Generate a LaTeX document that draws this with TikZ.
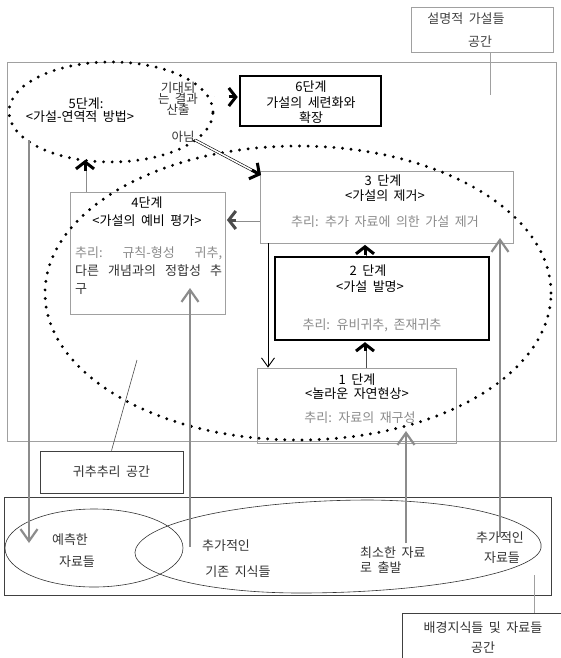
\documentclass[tikz,border=0pt]{standalone}
\usepackage{fontspec}
\setmainfont[WordSpace=1.9]{Noto Sans CJK KR}
\usetikzlibrary{shapes.geometric,arrows.meta,calc}
\definecolor{boxgray}{HTML}{A0A0A0}
\definecolor{textgray}{HTML}{8A8A8A}
\definecolor{arrgray}{HTML}{8C8C8C}
\begin{document}
\begin{tikzpicture}[x=1pt,y=-1pt,
  gbox/.style={draw=boxgray,line width=0.8pt,inner sep=0pt},
  kbox/.style={draw=black,line width=1.3pt,inner sep=0pt},
  tbox/.style={draw=black,line width=2.6pt,inner sep=0pt},
  dbox/.style={draw=black!75,line width=0.7pt,inner sep=0pt},
  dotell/.style={ellipse,draw=black,line width=3.2pt,dash pattern=on 0pt off 8.6pt,line cap=round,inner sep=0pt},
  thinell/.style={ellipse,draw=black!80,line width=0.6pt,inner sep=0pt},
  txt/.style={inner sep=0pt,font=\fontsize{13}{15}\selectfont},
  stxt/.style={inner sep=0pt,font=\fontsize{12.5}{12}\selectfont,align=center},
  gtxt/.style={txt,text=textgray},
  dshaft/.style={draw=black,double=white,line width=0.6pt,double distance=1.6pt},
  gshaft/.style={draw=arrgray,double=white,line width=0.8pt,double distance=1.4pt},
  bhead/.style={draw=black,line width=3pt,-{Straight Barb[length=7pt,width=18pt]}},
  ghead/.style={draw=black!70,line width=3pt,-{Straight Barb[length=7pt,width=18pt]}},
  garrow/.style={draw=arrgray,line width=2.2pt,-{Straight Barb[length=12pt,width=17pt]}},
  karrow/.style={draw=black,line width=0.9pt,-{Straight Barb[length=9pt,width=13pt]}},
  pointer/.style={draw=black!70,line width=0.6pt}
]
\useasboundingbox (0,0) rectangle (560,658);

% explanatory hypotheses space
\node[gbox,minimum width=142pt,minimum height=45pt] (expl) at (482,29.5) {};
\node[txt,text=black!75] (expl1) at (466,19) {설명적 가설들};
\node[txt,text=black!75] (expl2) at (480,42) {공간};
\coordinate (explptr) at (490,95);
\draw[pointer,draw=boxgray] (expl.south -| explptr) -- (explptr);

% outer hypothesis space
\node[gbox,minimum width=549pt,minimum height=379pt] (hyp) at (281.5,251.5) {};

% boxes
\node[tbox,minimum width=141pt,minimum height=50pt] (s6) at (310.5,101) {};
\node[gbox,minimum width=253pt,minimum height=72pt] (s3) at (386.5,207) {};
\node[kbox,minimum width=214pt,minimum height=83pt] (s2) at (382,298.5) {};
\node[gbox,minimum width=199pt,minimum height=75pt] (s1) at (356.5,405.5) {};
\node[gbox,minimum width=155pt,minimum height=122pt] (s4) at (147.5,253) {};

% dotted ellipses
\node[dotell,minimum width=204pt,minimum height=100pt] (e5) at (111,112) {};
\node[dotell,minimum width=506pt,minimum height=294pt] (e2) at (298,293) {};

% texts stage 5
\node[txt] (t5a) at (86,104) {5단계:};
\node[txt] (t5b) at (80,117) {<가설-연역적 방법>};
\node[stxt,text=black!80] (t5c) at (178,99) {기대되\\[-1pt]는 결과\\[-1pt]산출};
\node[stxt,text=black!80] (t5d) at (183,137) {아님};

% stage 6
\node[txt] (t6a) at (311,87) {6단계};
\node[txt] (t6b) at (311,103) {가설의 세련화와};
\node[txt] (t6c) at (311,118) {확장};

% stage 3
\node[txt] (t3a) at (383,181) {3 단계};
\node[txt] (t3b) at (385,196) {<가설의 제거>};
\node[gtxt] (t3c) at (385,222) {추리: 추가 자료에 의한 가설 제거};

% stage 2
\node[txt] (t2a) at (368,271) {2 단계};
\node[txt] (t2b) at (370,287) {<가설 발명>};
\node[gtxt] (t2c) at (372,325) {추리: 유비귀추, 존재귀추};

% stage 1
\node[txt] (t1a) at (357,380) {1 단계};
\node[txt] (t1b) at (357,394) {<놀라운 자연현상>};
\node[gtxt] (t1c) at (360,418) {추리: 자료의 재구성};

% stage 4
\node[txt] (t4a) at (147,203) {4단계};
\node[txt] (t4b) at (147,221) {<가설의 예비 평가>};
\node[gtxt,text width=147pt,anchor=west] (t4c) at (75,253) {추리:\hfill 규칙-형성\hfill 귀추,};
\node[txt,text width=147pt,anchor=west,text=black!80] (t4d) at (75,271) {다른\hfill 개념과의\hfill 정합성\hfill 추};
\node[txt,anchor=west,text=black!80] (t4e) at (75,289) {구};

% abduction space label
\node[dbox,minimum width=143pt,minimum height=42pt] (abd) at (111.5,472) {};
\node[txt,text=black!80] (abdt) at (111.5,472) {귀추추리 공간};
\coordinate (abdptr) at (137,360);
\draw[pointer] (abd.north) -- (abdptr);

% background space
\node[dbox,minimum width=547pt,minimum height=98pt] (bgr) at (277.5,546) {};
\node[thinell,minimum width=178pt,minimum height=78pt] (epred) at (94,548) {};
\draw[draw=black!80,line width=0.6pt] (136,548) .. controls (150,518) and (260,500) .. (370,500)
  .. controls (480,501) and (545,525) .. (541,548)
  .. controls (537,572) and (430,593) .. (300,593)
  .. controls (200,593) and (125,572) .. (136,548);
\node[txt,text=black!80] (pa) at (70,540) {예측한};
\node[txt,text=black!80] (pb) at (77,562) {자료들};
\node[txt,text=black!80] (ka) at (226,546) {추가적인};
\node[txt,text=black!80] (kb) at (238,572) {기존 지식들};
\node[txt,text=black!80,anchor=west] (ma) at (360,553) {최소한 자료};
\node[txt,text=black!80,anchor=west] (mb) at (360,568) {로 출발};
\node[txt,text=black!80] (da) at (500,538) {추가적인};
\node[txt,text=black!80] (db) at (502,558) {자료들};

\node[dbox,minimum width=173pt,minimum height=67pt] (bg) at (488.5,646.5) {};
\node[txt,text=black!80] (bga) at (483,628) {배경지식들 및 자료들};
\node[txt,text=black!80] (bgb) at (483,648) {공간};
\coordinate (bgptr) at (534,575);
\draw[pointer,draw=boxgray] (bgptr) -- (bgptr |- bg.north);

% connectors
% 5 -> 6
\coordinate (y56) at (0,97);
\draw[dshaft] (e5.east |- y56) -- ($(s6.west |- y56)+(-3,0)$);
\draw[bhead] ($(s6.west |- y56)+(-10,0)$) -- ($(s6.west |- y56)+(-1,0)$);
% 5 (아님) -> 3
\coordinate (no) at (195,140);
\coordinate (s3tip) at (261,175);
\draw[dshaft] (no) -- ($(no)!0.95!(s3tip)$);
\draw[bhead] ($(no)!0.86!(s3tip)$) -- (s3tip);
% 1 -> 2, 2 -> 3
\coordinate (ax) at (365,0);
\draw[gshaft,draw=black!70] (s1.north -| ax) -- ($(s2.south -| ax)+(0,4)$);
\draw[bhead] ($(s2.south -| ax)+(0,10)$) -- ($(s2.south -| ax)+(0,1.5)$);
\draw[gshaft,draw=black!70] (s2.north -| ax) -- ($(s3.south -| ax)+(0,3)$);
\draw[bhead] ($(s2.north -| ax)+(0,-1)$) -- ($(s3.south -| ax)+(0,1.5)$);
% 3 -> 4
\coordinate (y34) at (0,220);
\draw[gshaft] (s3.west |- y34) -- ($(s4.east |- y34)+(4,0)$);
\draw[ghead] ($(s4.east |- y34)+(11,0)$) -- ($(s4.east |- y34)+(1.5,0)$);
% 4 -> 5
\coordinate (x45) at (85,0);
\draw[gshaft] (s4.north -| x45) -- (85,166);
\draw[bhead] (85,171) -- (85,160);
% 3 -> 1
\coordinate (x31) at (268,0);
\draw[karrow] (s3.south -| x31) -- (s1.north -| x31);

% gray long arrows
\coordinate (g1s) at (29,140);
\coordinate (g1e) at (29,543);
\draw[garrow] (g1s) -- (g1e);
\coordinate (g2s) at (190,547);
\draw[garrow] (g2s) -- (190,288);
\coordinate (g3s) at (406,543);
\draw[garrow] (g3s) -- (406,431);
\coordinate (g4s) at (500,537);
\draw[garrow] (g4s) -- (500,238);
\end{tikzpicture}
\end{document}
